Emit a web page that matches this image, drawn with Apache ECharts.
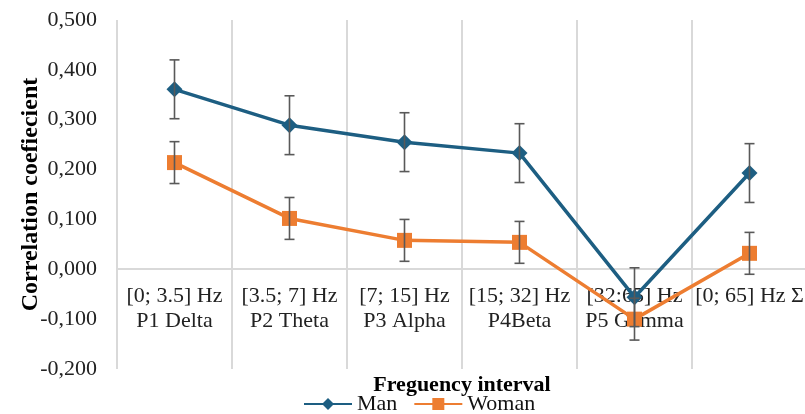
<!DOCTYPE html>
<html><head><meta charset="utf-8">
<script src="https://cdn.jsdelivr.net/npm/echarts@6/dist/echarts.min.js"></script>
<style>html,body{margin:0;padding:0;background:#fff}#c{width:805px;height:414px}</style>
</head><body><div id="c"></div>
<script>
const categories = ['[0; 3.5] Hz\nP1 Delta','[3.5; 7] Hz\nP2 Theta','[7; 15] Hz\nP3 Alpha','[15; 32] Hz\nP4Beta','[32:65] Hz\nP5 Gamma','[0; 65] Hz Σ'];
const manValues = [0.361, 0.289, 0.255, 0.233, -0.056, 0.193];
const manErr = [0.059, 0.059, 0.059, 0.059, 0.059, 0.059];
const womanValues = [0.214, 0.102, 0.058, 0.054, -0.100, 0.032];
const womanErr = [0.042, 0.042, 0.042, 0.042, 0.042, 0.042];
const yTicks = {min: -0.2, max: 0.5, interval: 0.1};

const FONT = 'Liberation Serif';
const MAN = '#1d5e82', WOMAN = '#ed7d31', ERR = '#595959';

function errData(vals, errs){ return vals.map((v,i)=>[i, v-errs[i], v+errs[i]]); }
function errRender(params, api){
  const lo = api.coord([api.value(0), api.value(1)]);
  const hi = api.coord([api.value(0), api.value(2)]);
  const w = 5;
  const st = {stroke: ERR, lineWidth: 1.6};
  return {type:'group', children:[
    {type:'line', shape:{x1:lo[0],y1:lo[1],x2:hi[0],y2:hi[1]}, style:st},
    {type:'line', shape:{x1:lo[0]-w,y1:lo[1],x2:lo[0]+w,y2:lo[1]}, style:st},
    {type:'line', shape:{x1:hi[0]-w,y1:hi[1],x2:hi[0]+w,y2:hi[1]}, style:st}
  ]};
}

const chart = echarts.init(document.getElementById('c'), null, {renderer:'canvas'});
chart.setOption({
  animation:false,
  textStyle:{fontFamily:FONT},
  grid:{left:117, right:-2, top:20, bottom:45, containLabel:false, outerBoundsMode:'none'},
  legend:{data:['Man','Woman'], bottom:-6, left:298, itemWidth:48, itemHeight:15, itemGap:16,
    textStyle:{fontFamily:FONT, fontSize:22, color:'#111'}},
  xAxis:{type:'category', data:categories, boundaryGap:true, offset:-100,
    axisLine:{onZero:false, lineStyle:{color:'#d9d9d9', width:2}},
    axisTick:{show:false},
    axisLabel:{fontFamily:FONT, fontSize:22, color:'#222', margin:15, lineHeight:25, interval:0},
    splitLine:{show:true, lineStyle:{color:'#d9d9d9', width:2}},
    name:'Freguency interval', nameLocation:'middle', nameGap:105, nameMoveOverlap:false,
    nameTextStyle:{fontFamily:FONT, fontSize:22, fontWeight:'bold', color:'#000'}},
  yAxis:{type:'value', min:yTicks.min, max:yTicks.max, interval:yTicks.interval,
    axisLine:{show:false}, axisTick:{show:false}, splitLine:{show:false},
    axisLabel:{fontFamily:FONT, fontSize:22, color:'#222', margin:20,
      formatter:v=>v.toFixed(3).replace('.',',')},
    name:'Correlation coefiecient', nameLocation:'middle', nameGap:74, nameMoveOverlap:false,
    nameTextStyle:{fontFamily:FONT, fontSize:24, fontWeight:'bold', color:'#000'}},
  series:[
    {name:'Man', type:'line', data:manValues, symbol:'diamond', symbolSize:16,
      lineStyle:{color:MAN, width:3.5}, itemStyle:{color:MAN}, z:3},
    {name:'Woman', type:'line', data:womanValues, symbol:'rect', symbolSize:15,
      lineStyle:{color:WOMAN, width:3.5}, itemStyle:{color:WOMAN}, z:3},
    {name:'Man err', type:'custom', data:errData(manValues, manErr), renderItem:errRender,
      encode:{x:0, y:[1,2]}, z:4},
    {name:'Woman err', type:'custom', data:errData(womanValues, womanErr), renderItem:errRender,
      encode:{x:0, y:[1,2]}, z:4}
  ]
});
</script></body></html>
